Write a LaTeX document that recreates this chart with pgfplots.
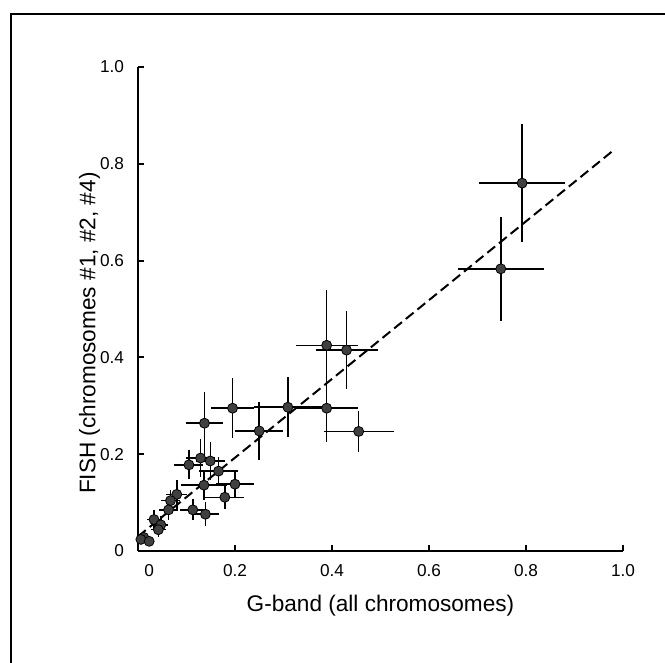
\documentclass[border=0pt]{standalone}
\usepackage{fontspec}
\setmainfont{Liberation Sans}
\usepackage{pgfplots}
\pgfplotsset{compat=1.18}
\usepackage{pgfplotstable}

% x y ex ey
\pgfplotstableread{
x     y     ex    ey
0.792 0.760 0.088 0.122
0.748 0.583 0.089 0.108
0.389 0.425 0.064 0.115
0.430 0.415 0.064 0.080
0.389 0.295 0.065 0.070
0.455 0.247 0.072 0.042
0.309 0.297 0.070 0.062
0.250 0.248 0.050 0.060
0.195 0.295 0.045 0.062
0.137 0.264 0.038 0.065
0.129 0.192 0.030 0.040
0.149 0.186 0.030 0.040
0.105 0.178 0.030 0.030
0.166 0.165 0.040 0.030
0.136 0.136 0.048 0.030
0.200 0.138 0.040 0.028
0.179 0.111 0.040 0.025
0.113 0.085 0.027 0.022
0.139 0.076 0.028 0.025
0.080 0.117 0.022 0.030
0.067 0.104 0.020 0.022
0.063 0.085 0.020 0.022
0.033 0.065 0.015 0.020
0.047 0.054 0.015 0.018
0.042 0.044 0.015 0.015
0.012 0.028 0.010 0.010
0.006 0.024 0.008 0.008
0.023 0.020 0.010 0.008
}\fishdata

\begin{document}
\begin{tikzpicture}
\useasboundingbox (0,0) rectangle (332.5pt,331.5pt);
% outer frame (cut at right and bottom like the scan)
\draw[line width=0.9pt] (5.5pt,-2pt) -- (5.5pt,324.5pt) -- (340pt,324.5pt);
\begin{axis}[
  at={(69pt,56pt)}, anchor=south west,
  scale only axis, width=242.5pt, height=242pt,
  xmin=0, xmax=1, ymin=0, ymax=1,
  axis x line*=bottom, axis y line*=left,
  axis line style={line width=1pt},
  tick align=inside, major tick length=3pt,
  every tick/.style={black, line width=1pt},
  xtick={0.2,0.4,0.6,0.8,1}, xticklabels={0.2,0.4,0.6,0.8,1.0},
  extra x ticks={0.023}, extra x tick labels={0},
  extra x tick style={major tick length=0pt},
  ytick={0,0.2,0.4,0.6,0.8,1}, yticklabels={0,0.2,0.4,0.6,0.8,1.0},
  /pgf/number format/assume math mode=true,
  ticklabel style={font=\fontsize{8.6}{10}\selectfont},
  xticklabel shift=3pt, yticklabel shift=3.5pt,
  xlabel={G-band (all chromosomes)},
  ylabel={FISH (chromosomes \#1, \#2, \#4)},
  label style={font=\fontsize{11.3}{13}\selectfont},
  xlabel style={at={(axis description cs:0.5,-0.113)}, anchor=center},
  ylabel style={at={(axis description cs:-0.1,0.45)}, anchor=center},
  clip=false,
]
\addplot[black, line width=1pt, dash pattern=on 5pt off 2.5pt]
  coordinates {(0,0.03) (0.983,0.83)};
\addplot[only marks, mark=*, mark size=2.5pt,
  mark options={fill=black!75, draw=black, line width=0.4pt},
  error bars/.cd, x dir=both, y dir=both, x explicit, y explicit,
  error mark=none, error bar style={black, line width=0.75pt}]
  table[x=x, y=y, x error=ex, y error=ey] {\fishdata};
\end{axis}
\end{tikzpicture}
\end{document}
